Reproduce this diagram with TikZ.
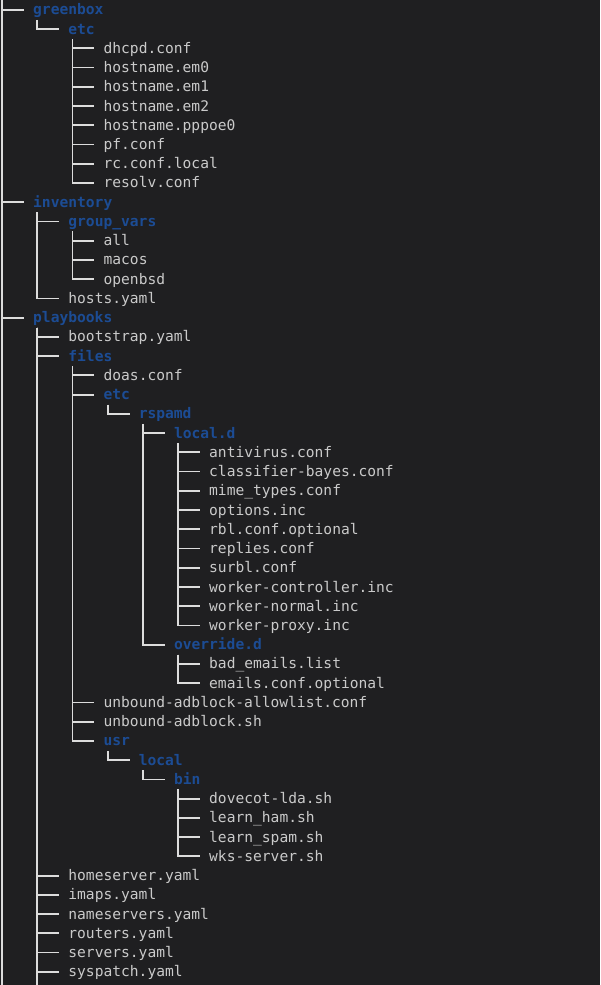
\documentclass[tikz,border=0pt]{standalone}
\usepackage{fontspec}
\setmonofont{DejaVu Sans Mono}
\definecolor{bg}{HTML}{1F1F21}
\definecolor{filec}{HTML}{CACACA}
\definecolor{dirc}{HTML}{1C4C94}
\definecolor{linec}{HTML}{DCDCDC}
\tikzset{
  entry/.style={anchor=base west, inner sep=0pt, font=\ttfamily\fontsize{14.6}{17}\selectfont},
  filenode/.style={entry, text=filec},
  dirnode/.style={entry, text=dirc, font=\ttfamily\bfseries\fontsize{14.6}{17}\selectfont},
  branch/.style={draw=linec, line width=1.8pt},
}
\newcommand{\tconn}[2]{\draw[branch] ([xshift=4.2pt,yshift=-5pt]#1.base west) |- ([xshift=-9pt,yshift=5pt]#2.base west);}
\newcommand{\rconn}[1]{\draw[branch] (top) |- ([xshift=-9pt,yshift=5pt]#1.base west);}
\begin{document}
\begin{tikzpicture}[x=1pt,y=-1pt]
\fill[bg] (0,0) rectangle (600,985);
\useasboundingbox (0,0) rectangle (600,985);
\coordinate (top) at (2,0);
\coordinate (bottom) at (2,985);
\coordinate (pbbottom) at (37.2,985);
% level x: L0 33, L1 68.2, L2 103.4, L3 138.6, L4 173.8, L5 209
\node[dirnode]  (n0)  at (33,14.80)    {greenbox};
\node[dirnode]  (n1)  at (68.2,34.04)  {etc};
\node[filenode] (n2)  at (103.4,53.28) {dhcpd.conf};
\node[filenode] (n3)  at (103.4,72.52) {hostname.em0};
\node[filenode] (n4)  at (103.4,91.76) {hostname.em1};
\node[filenode] (n5)  at (103.4,111.00) {hostname.em2};
\node[filenode] (n6)  at (103.4,130.24) {hostname.pppoe0};
\node[filenode] (n7)  at (103.4,149.48) {pf.conf};
\node[filenode] (n8)  at (103.4,168.72) {rc.conf.local};
\node[filenode] (n9)  at (103.4,187.96) {resolv.conf};
\node[dirnode]  (n10) at (33,207.20)   {inventory};
\node[dirnode]  (n11) at (68.2,226.44) {group\_vars};
\node[filenode] (n12) at (103.4,245.68) {all};
\node[filenode] (n13) at (103.4,264.92) {macos};
\node[filenode] (n14) at (103.4,284.16) {openbsd};
\node[filenode] (n15) at (68.2,303.40) {hosts.yaml};
\node[dirnode]  (n16) at (33,322.64)   {playbooks};
\node[filenode] (n17) at (68.2,341.88) {bootstrap.yaml};
\node[dirnode]  (n18) at (68.2,361.12) {files};
\node[filenode] (n19) at (103.4,380.36) {doas.conf};
\node[dirnode]  (n20) at (103.4,399.60) {etc};
\node[dirnode]  (n21) at (138.6,418.84) {rspamd};
\node[dirnode]  (n22) at (173.8,438.08) {local.d};
\node[filenode] (n23) at (209,457.32) {antivirus.conf};
\node[filenode] (n24) at (209,476.56) {classifier-bayes.conf};
\node[filenode] (n25) at (209,495.80) {mime\_types.conf};
\node[filenode] (n26) at (209,515.04) {options.inc};
\node[filenode] (n27) at (209,534.28) {rbl.conf.optional};
\node[filenode] (n28) at (209,553.52) {replies.conf};
\node[filenode] (n29) at (209,572.76) {surbl.conf};
\node[filenode] (n30) at (209,592.00) {worker-controller.inc};
\node[filenode] (n31) at (209,611.24) {worker-normal.inc};
\node[filenode] (n32) at (209,630.48) {worker-proxy.inc};
\node[dirnode]  (n33) at (173.8,649.72) {override.d};
\node[filenode] (n34) at (209,668.96) {bad\_emails.list};
\node[filenode] (n35) at (209,688.20) {emails.conf.optional};
\node[filenode] (n36) at (103.4,707.44) {unbound-adblock-allowlist.conf};
\node[filenode] (n37) at (103.4,726.68) {unbound-adblock.sh};
\node[dirnode]  (n38) at (103.4,745.92) {usr};
\node[dirnode]  (n39) at (138.6,765.16) {local};
\node[dirnode]  (n40) at (173.8,784.40) {bin};
\node[filenode] (n41) at (209,803.64) {dovecot-lda.sh};
\node[filenode] (n42) at (209,822.88) {learn\_ham.sh};
\node[filenode] (n43) at (209,842.12) {learn\_spam.sh};
\node[filenode] (n44) at (209,861.36) {wks-server.sh};
\node[filenode] (n45) at (68.2,880.60) {homeserver.yaml};
\node[filenode] (n46) at (68.2,899.84) {imaps.yaml};
\node[filenode] (n47) at (68.2,919.08) {nameservers.yaml};
\node[filenode] (n48) at (68.2,938.32) {routers.yaml};
\node[filenode] (n49) at (68.2,957.56) {servers.yaml};
\node[filenode] (n50) at (68.2,976.80) {syspatch.yaml};
% root trunk
\draw[branch] (top) -- (bottom);
\rconn{n0}\rconn{n10}\rconn{n16}
% greenbox
\tconn{n0}{n1}
\foreach \c in {n2,n3,n4,n5,n6,n7,n8,n9} {\tconn{n1}{\c}}
% inventory
\tconn{n10}{n11}\tconn{n10}{n15}
\foreach \c in {n12,n13,n14} {\tconn{n11}{\c}}
% playbooks
\draw[branch] ([xshift=4.2pt,yshift=-5pt]n16.base west) -- (pbbottom);
\foreach \c in {n17,n18,n45,n46,n47,n48,n49,n50} {\tconn{n16}{\c}}
\foreach \c in {n19,n20,n36,n37,n38} {\tconn{n18}{\c}}
\tconn{n20}{n21}
\tconn{n21}{n22}\tconn{n21}{n33}
\foreach \c in {n23,n24,n25,n26,n27,n28,n29,n30,n31,n32} {\tconn{n22}{\c}}
\foreach \c in {n34,n35} {\tconn{n33}{\c}}
\tconn{n38}{n39}
\tconn{n39}{n40}
\foreach \c in {n41,n42,n43,n44} {\tconn{n40}{\c}}
\end{tikzpicture}
\end{document}
